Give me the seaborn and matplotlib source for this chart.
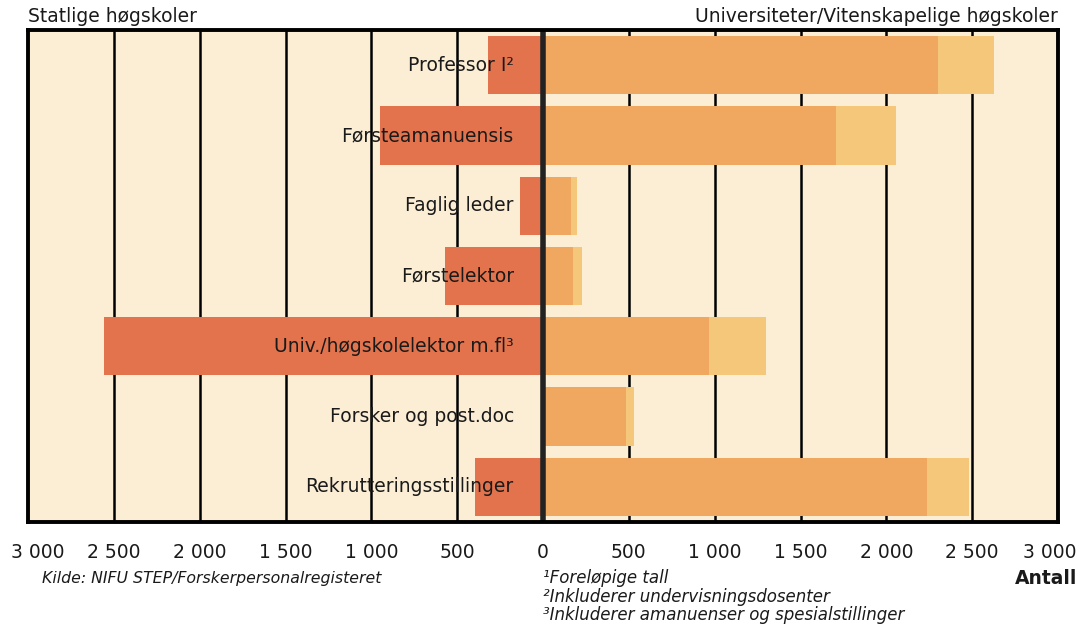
import numpy as np
import pandas as pd
import matplotlib.pyplot as plt
import matplotlib.transforms as mtransforms
import seaborn as sns
from matplotlib.ticker import FuncFormatter

# Stillingskategorier (ovenfra og ned)
categories = ["Professor I²", "Førsteamanuensis", "Faglig leder", "Førstelektor",
              "Univ./høgskolelektor m.fl³", "Forsker og post.doc", "Rekrutteringsstillinger"]
# Statlige høgskoler (vises mot venstre)
statlige = [320, 950, 135, 570, 2555, 0, 395]
# Universiteter/vitenskapelige høgskoler, to deler
univ_main = [2300, 1705, 163, 175, 967, 483, 2236]
univ_extra = [330, 350, 35, 52, 332, 47, 245]
ticks = [-3000, -2500, -2000, -1500, -1000, -500, 0, 500, 1000, 1500, 2000, 2500, 3000]

df = pd.DataFrame({"kategori": categories,
                   "statlige": [-v for v in statlige],
                   "main": univ_main,
                   "total": [m + e for m, e in zip(univ_main, univ_extra)]})

sns.set_style("white")
plt.rcParams["font.family"] = ["DejaVu Sans"]

fig = plt.figure(figsize=(10.8, 6.24), dpi=100)
ax = fig.add_axes([28 / 1080, 1 - 522 / 624, 1030 / 1080, 492 / 624])
ax.set_facecolor("#FCEED5")

# vertical grid behind bars
for t in ticks[1:-1]:
    if t != 0:
        ax.axvline(t, color="black", lw=1.8, zorder=0)

bw = 0.83
sns.barplot(data=df, x="total", y="kategori", orient="h", color="#F5C77A",
            width=bw, saturation=1, linewidth=0, ax=ax, zorder=2)
sns.barplot(data=df, x="main", y="kategori", orient="h", color="#F0A860",
            width=bw, saturation=1, linewidth=0, ax=ax, zorder=2)
sns.barplot(data=df, x="statlige", y="kategori", orient="h", color="#E2734D",
            width=bw, saturation=1, linewidth=0, ax=ax, zorder=2)

ax.axvline(0, color="#222222", lw=4, zorder=4)

# kategori-etiketter inne i plottet
for i, name in enumerate(categories):
    ax.text(-170, i, name, ha="right", va="center", fontsize=13.5,
            color="#1a1a1a", zorder=5)

ax.set_xlim(-3000, 3000)
ax.set_ylim(6.5, -0.5)
ax.set_yticks([])
ax.set_xticks(ticks)
ax.xaxis.set_major_formatter(FuncFormatter(lambda v, p: f"{abs(int(v)):,}".replace(",", " ")))
ax.tick_params(axis="x", direction="out", length=6, width=2, labelsize=13.5,
               pad=9, colors="black", labelcolor="#1a1a1a")
ax.set_xlabel("")
ax.set_ylabel("")
for s in ax.spines.values():
    s.set_visible(True)
    s.set_color("black")
    s.set_linewidth(2.8)
    s.set_zorder(6)

# flytt ytterste tallene litt innover
labels = ax.get_xticklabels()
labels[0].set_transform(labels[0].get_transform() +
                        mtransforms.ScaledTranslation(10 / 100, 0, fig.dpi_scale_trans))
labels[-1].set_transform(labels[-1].get_transform() +
                         mtransforms.ScaledTranslation(-8 / 100, 0, fig.dpi_scale_trans))

fig.text(28 / 1080, 1 - 17 / 624, "Statlige høgskoler", ha="left", va="center",
         fontsize=13.5, color="#1a1a1a")
fig.text(1058 / 1080, 1 - 17 / 624, "Universiteter/Vitenskapelige høgskoler",
         ha="right", va="center", fontsize=13.5, color="#1a1a1a")
fig.text(42 / 1080, 1 - 578 / 624, "Kilde: NIFU STEP/Forskerpersonalregisteret",
         ha="left", va="center", fontsize=11.3, style="italic", color="#1a1a1a")
fig.text(1077 / 1080, 1 - 578 / 624, "Antall", ha="right", va="center",
         fontsize=13.5, fontweight="bold", color="#1a1a1a")
notes = ["¹Foreløpige tall", "²Inkluderer undervisningsdosenter",
         "³Inkluderer amanuenser og spesialstillinger"]
for k, n in enumerate(notes):
    fig.text(543 / 1080, 1 - (578 + 18.5 * k) / 624, n, ha="left", va="center",
             fontsize=12, style="italic", color="#1a1a1a")

fig.savefig("out.png", dpi=100)
